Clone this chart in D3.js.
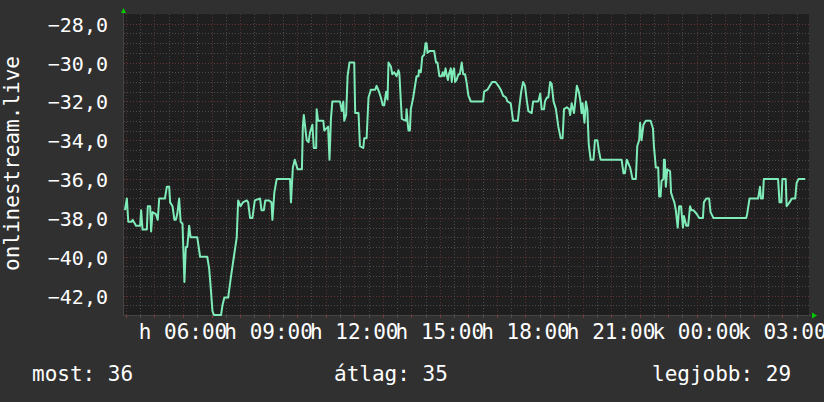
<!DOCTYPE html>
<html><head><meta charset="utf-8">
<script src="https://cdn.jsdelivr.net/npm/d3@7"></script>
<style>html,body{margin:0;padding:0;background:#303030;}svg{display:block}</style>
</head><body><svg id="c" width="824" height="402"></svg>
<script>
// minutes since Monday 00:00
const sampleMinutes = [238,242,245,252,254,259,261,270,272,275,284,286,291,293,296,303,307,310,322,326,331,333,338,342,345,348,352,355,359,363,366,369,373,376,390,396,411,415,418,422,425,440,443,447,455,461,467,473,476,481,486,494,497,501,506,511,522,525,530,533,541,546,548,552,557,585,587,591,595,601,610,612,614,620,624,627,632,635,640,641,644,655,657,665,668,671,674,690,694,697,699,703,706,710,720,722,729,732,739,741,746,750,755,764,767,772,776,780,783,787,790,792,797,800,804,809,813,815,818,820,829,830,832,834,837,839,844,851,855,856,860,863,867,870,872,874,879,888,892,895,899,904,906,909,912,914,917,919,923,925,927,930,932,935,939,942,946,949,953,956,960,965,991,993,1000,1005,1010,1017,1023,1028,1033,1039,1042,1049,1054,1064,1067,1071,1075,1079,1083,1086,1093,1096,1107,1111,1114,1119,1121,1125,1128,1132,1135,1139,1144,1149,1154,1158,1161,1167,1172,1174,1177,1182,1186,1188,1192,1195,1198,1200,1204,1207,1210,1213,1217,1223,1226,1231,1234,1238,1282,1286,1289,1293,1298,1300,1305,1312,1315,1319,1321,1324,1328,1333,1343,1348,1350,1354,1359,1361,1364,1366,1370,1371,1373,1375,1378,1384,1386,1390,1393,1396,1400,1403,1407,1411,1413,1418,1422,1426,1429,1433,1440,1445,1453,1455,1460,1466,1469,1475,1544,1546,1551,1569,1573,1575,1579,1581,1611,1614,1618,1620,1627,1629,1635,1640,1647,1650,1654,1668];
const sampleValues = [-37.6,-37.0,-38.2,-38.2,-38.1,-38.3,-38.4,-38.4,-37.6,-38.6,-38.6,-37.4,-37.4,-38.7,-37.7,-37.8,-38.1,-37.0,-37.0,-36.4,-36.4,-37.2,-37.4,-38.1,-38.1,-37.8,-37.0,-38.2,-38.3,-41.3,-39.5,-39.5,-38.4,-39.0,-39.0,-40.0,-40.0,-40.6,-41.5,-42.8,-43.0,-43.0,-42.5,-42.1,-42.1,-41.0,-40.0,-39.0,-37.1,-37.4,-37.2,-37.1,-37.2,-38.0,-38.0,-37.1,-37.0,-37.6,-37.6,-37.1,-37.1,-37.2,-38.1,-36.7,-36.0,-36.0,-37.2,-35.4,-35.0,-35.5,-35.5,-33.3,-32.7,-34.0,-34.1,-33.6,-33.2,-34.4,-34.4,-32.4,-33.0,-33.0,-33.5,-33.3,-35.0,-32.9,-32.0,-32.0,-32.5,-32.0,-33.0,-32.7,-30.7,-30.0,-30.0,-32.6,-32.6,-34.3,-34.4,-33.9,-33.9,-31.8,-31.4,-31.4,-31.2,-31.5,-31.8,-32.2,-32.2,-31.5,-31.9,-30.0,-30.2,-30.6,-30.5,-30.7,-30.4,-30.6,-32.0,-32.9,-33.0,-32.4,-33.0,-33.5,-33.5,-32.4,-31.8,-30.7,-30.7,-30.4,-30.5,-29.7,-29.6,-29.0,-29.0,-29.5,-29.4,-29.4,-30.0,-30.0,-30.7,-30.7,-30.5,-30.7,-30.3,-30.6,-30.9,-30.6,-30.3,-31.0,-30.5,-30.3,-31.0,-30.9,-30.6,-30.6,-30.0,-30.6,-30.6,-31.0,-31.7,-32.0,-32.0,-31.5,-31.4,-31.2,-31.0,-31.0,-31.2,-31.4,-31.7,-31.8,-32.0,-32.1,-33.0,-33.0,-32.3,-31.5,-31.0,-31.2,-32.0,-32.5,-32.6,-32.0,-32.0,-31.6,-32.4,-32.4,-32.0,-31.8,-31.8,-31.0,-31.1,-32.0,-32.4,-33.3,-33.9,-33.9,-32.4,-32.3,-32.4,-32.7,-32.1,-32.6,-31.7,-31.2,-31.5,-31.9,-32.6,-32.1,-33.1,-32.0,-32.4,-34.2,-35.0,-35.0,-34.0,-34.0,-34.5,-35.0,-35.0,-35.7,-35.7,-35.0,-35.3,-35.4,-36.0,-36.0,-34.3,-34.0,-33.1,-34.0,-33.2,-33.0,-33.0,-33.4,-34.3,-35.4,-35.4,-36.9,-36.9,-36.1,-36.0,-35.0,-35.0,-36.4,-35.5,-35.6,-36.7,-37.0,-37.2,-37.6,-38.5,-37.4,-37.4,-38.5,-37.9,-38.4,-38.4,-37.4,-37.6,-37.6,-37.8,-38.0,-38.0,-37.2,-37.0,-37.0,-37.7,-38.0,-38.0,-37.8,-37.0,-37.0,-36.4,-37.0,-37.0,-36.0,-36.0,-37.2,-37.2,-36.0,-36.0,-37.4,-37.2,-37.0,-37.0,-36.2,-36.0,-36.0];
const yTickValues = [-28,-30,-32,-34,-36,-38,-40,-42];
const yDomain = [-43,-27.5];
const windowMinutes = [236,1676];
const dayAbbr = ["v","h","k","sze","cs","p","szo"];
const axisTitle = "onlinestream.live";
const statLabels = ["most","átlag","legjobb"];
const statValues = [36,35,29];

const base = new Date(2024,0,1,0,0,0); // a Monday
const toDate = m => new Date(base.getTime() + m*60000);
const data = sampleMinutes.map((m,i)=>({t:toDate(m), v:sampleValues[i]}));

const L=124, R=809, T=14, B=315;
const svg = d3.select("#c");
const FONT = "'DejaVu Sans Mono', monospace";

svg.append("rect").attr("width",824).attr("height",402).attr("fill","#303030");
svg.append("rect").attr("x",L-1).attr("y",T).attr("width",R-L+1).attr("height",B-T+1).attr("fill","#1f1f1f");

const x = d3.scaleTime().domain(windowMinutes.map(toDate)).range([L,R]);
const y = d3.scaleLinear().domain(yDomain).range([B,T]);

const grid = svg.append("g").attr("shape-rendering","crispEdges");
const minorY = d3.range(yDomain[0]*2, yDomain[1]*2+0.01, 1).map(v=>v/2);
minorY.forEach(v=>{
  const yy=Math.round(y(v))+0.5;
  if (yy<=T+0.5 || yy>=B) return;
  const major = (Math.abs(v)%2===0);
  grid.append("line").attr("x1",L).attr("x2",R).attr("y1",yy).attr("y2",yy)
    .attr("stroke", major?"#663333":"#4a4a4a").attr("stroke-dasharray","1,2");
});
const halfHours = d3.timeMinute.every(30).range(x.domain()[0], x.domain()[1]);
halfHours.forEach(d=>{
  const xx=Math.round(x(d))+0.5;
  const major = d.getMinutes()===0;
  grid.append("line").attr("x1",xx).attr("x2",xx).attr("y1",T).attr("y2",B)
    .attr("stroke", major?"#5a3434":"#4a4a4a").attr("stroke-dasharray","1,2");
  grid.append("line").attr("x1",xx).attr("x2",xx).attr("y1",B).attr("y2",B+3)
    .attr("stroke", major?"#8a3a3a":"#505050");
});
grid.append("line").attr("x1",L-0.5).attr("x2",R+2).attr("y1",B+0.5).attr("y2",B+0.5).attr("stroke","#444");
grid.append("line").attr("x1",L-0.5).attr("x2",L-0.5).attr("y1",T-2).attr("y2",B+1).attr("stroke","#444");
svg.append("path").attr("d",`M${L-3},${T-1}L${L+2},${T-1}L${L-0.5},${T-6}Z`).attr("fill","#00cc00");
svg.append("path").attr("d",`M${R+3},${B-2.5}L${R+3},${B+3.5}L${R+8},${B+0.5}Z`).attr("fill","#00cc00");

svg.append("g").selectAll("text").data(yTickValues).join("text")
  .attr("x",108).attr("y",d=>y(d)+8).attr("text-anchor","end")
  .attr("font-family",FONT).attr("font-size",20).attr("fill","#fff")
  .text(d=>d3.format(".1f")(d).replace(".",","));

const fmtHM = d3.timeFormat("%H:%M");
const labelTimes = d3.timeHour.every(3).range(x.domain()[0], x.domain()[1]);
svg.append("g").selectAll("text").data(labelTimes).join("text")
  .attr("x",d=>x(d)).attr("y",339).attr("text-anchor","middle")
  .attr("font-family",FONT).attr("font-size",21).attr("fill","#fff")
  .text(d=>dayAbbr[d.getDay()]+" "+fmtHM(d));

svg.append("text").attr("transform","translate(18.5,163.5) rotate(-90)")
  .attr("text-anchor","middle").attr("font-family",FONT).attr("font-size",21).attr("fill","#fff")
  .text(axisTitle);

const line = d3.line().x(d=>x(d.t)).y(d=>y(d.v));
svg.append("path").datum(data).attr("d",line).attr("fill","none")
  .attr("stroke","#7eebb8").attr("stroke-width",2).attr("stroke-linejoin","round");

const statX = [32,334,652];
svg.append("g").selectAll("text").data(statLabels).join("text")
  .attr("x",(d,i)=>statX[i]).attr("y",381)
  .attr("font-family",FONT).attr("font-size",21).attr("fill","#fff")
  .text((d,i)=>d+": "+statValues[i]);
</script></body></html>
